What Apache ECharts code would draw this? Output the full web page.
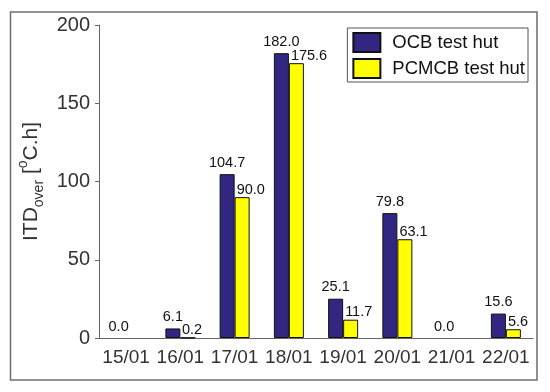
<!DOCTYPE html>
<html><head><meta charset="utf-8">
<script src="https://cdn.jsdelivr.net/npm/echarts@6/dist/echarts.min.js"></script>
<style>html,body{margin:0;padding:0;background:#fff}#c{width:550px;height:392px}</style>
</head><body><div id="c"></div>
<script>
var categories = ['15/01','16/01','17/01','18/01','19/01','20/01','21/01','22/01'];
var ocbValues = [0.0, 6.1, 104.7, 182.0, 25.1, 79.8, 0.0, 15.6];
var pcmcbValues = [0.0, 0.2, 90.0, 175.6, 11.7, 63.1, 0.0, 5.6];
var seriesNames = ['OCB test hut', 'PCMCB test hut'];
var yTicks = [0, 50, 100, 150, 200];

var FONT = 'Liberation Sans, Arial, sans-serif';
function toItems(arr) {
  return arr.map(function (v) {
    return v === 0 ? {value: v, itemStyle: {borderWidth: 0}} : v;
  });
}
var chart = echarts.init(document.getElementById('c'), null, {renderer: 'canvas'});
chart.setOption({
  animation: false,
  backgroundColor: '#fff',
  textStyle: {fontFamily: FONT},
  graphic: [{
    type: 'rect', shape: {x: 10.5, y: 12, width: 526.5, height: 368},
    style: {fill: 'none', stroke: '#6e6e6e', lineWidth: 1.5}, silent: true, z: -1
  }],
  grid: {left: 99, top: 25, right: 17, bottom: 54, containLabel: false},
  legend: {
    orient: 'vertical', right: 22, top: 28,
    padding: [4, 3, 3, 5],
    backgroundColor: '#fff',
    borderColor: '#555', borderWidth: 1,
    itemWidth: 27, itemHeight: 19, itemGap: 5,
    icon: 'rect',
    textStyle: {fontFamily: FONT, fontSize: 18.5, color: '#111', padding: [0, 0, 0, 7]},
    data: seriesNames
  },
  xAxis: {
    type: 'category', data: categories,
    axisLine: {lineStyle: {color: '#666', width: 1}},
    axisTick: {alignWithLabel: true, length: 5, lineStyle: {color: '#666'}},
    axisLabel: {fontFamily: FONT, fontSize: 19, color: '#333', margin: 10, interval: 0}
  },
  yAxis: {
    type: 'value', min: yTicks[0], max: yTicks[yTicks.length - 1], interval: 50,
    axisLine: {show: true, lineStyle: {color: '#666', width: 1}},
    axisTick: {show: true, length: 4, lineStyle: {color: '#666'}},
    splitLine: {show: false},
    axisLabel: {fontFamily: FONT, fontSize: 20, color: '#333', margin: 9},
    name: '{n|ITD}{sub|over}{n| [}{sup|o}{n|C.h]}',
    nameLocation: 'middle', nameGap: 47, nameRotate: 90,
    nameTextStyle: {
      rich: {
        n: {fontFamily: FONT, fontSize: 21, color: '#333', lineHeight: 30, verticalAlign: 'middle'},
        sub: {fontFamily: FONT, fontSize: 14, color: '#333', lineHeight: 30, verticalAlign: 'bottom'},
        sup: {fontFamily: FONT, fontSize: 14, color: '#333', lineHeight: 30, verticalAlign: 'top'}
      }
    }
  },
  series: [{
    name: seriesNames[0], type: 'bar', data: toItems(ocbValues),
    barWidth: 15, barGap: '0%',
    itemStyle: {color: '#312783', borderColor: '#111', borderWidth: 1},
    label: {show: true, position: 'top', distance: 4, fontFamily: FONT, fontSize: 14.5, color: '#111',
      formatter: function (p) { return Number(p.value).toFixed(1); }}
  }, {
    name: seriesNames[1], type: 'bar', data: toItems(pcmcbValues),
    barWidth: 15, barGap: '0%',
    itemStyle: {color: '#ffff00', borderColor: '#111', borderWidth: 1},
    label: {show: true, position: [2, 0], align: 'left', verticalAlign: 'bottom',
      fontFamily: FONT, fontSize: 14.5, color: '#111',
      formatter: function (p) { return Number(p.value) === 0 ? '' : Number(p.value).toFixed(1); }}
  }]
});
</script></body></html>
